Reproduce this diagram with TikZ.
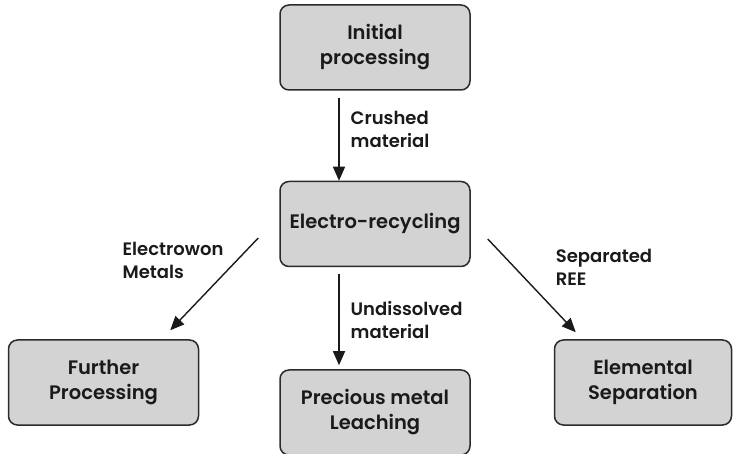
\documentclass[tikz,border=0pt]{standalone}
\usepackage{fontspec}
\setmainfont{Poppins}[BoldFont={Poppins SemiBold}]
\usepackage{tikz}
\usetikzlibrary{arrows.meta, positioning}
\definecolor{boxgray}{HTML}{D3D3D3}
\definecolor{edgedark}{HTML}{2B2B2B}
\definecolor{inkblack}{HTML}{1A1A1A}
\tikzstyle{stage} = [rectangle, rounded corners=9pt, minimum width=190pt, minimum height=85pt, text centered, align=center, draw=edgedark, line width=1.5pt, fill=boxgray, text=inkblack, font=\fontsize{19.5}{25}\selectfont\bfseries]
\tikzstyle{flowlabel} = [align=left, text=inkblack, font=\fontsize{18}{23}\selectfont\bfseries, inner sep=1pt]
\tikzstyle{arrow} = [line width=1.4pt, -{Triangle[length=14pt,width=12pt]}, color=inkblack]

\begin{document}
\begin{tikzpicture}[x=1pt, y=1pt]
    \useasboundingbox (0,0) rectangle (734,-454);
    \node[stage] (init) at (375,-47.5) {Initial\\processing};
    \node[stage, below=90pt of init] (elec) {Electro-recycling};
    \node[stage, below=102pt of elec] (prec) {Precious metal\\Leaching};
    \node[stage, below left=72pt and 80pt of elec] (further) {Further\\Processing};
    \node[stage, minimum width=177pt, below right=72pt and 83pt of elec] (elem) {Elemental\\Separation};

    \draw[arrow] ([xshift=-36pt,yshift=-7pt]init.south) -- node[flowlabel, right=10pt, pos=0.38] {Crushed\\material} ([xshift=-36pt]elec.north);
    \draw[arrow] ([xshift=-36pt,yshift=-7pt]elec.south) -- node[flowlabel, right=10pt, pos=0.5] {Undissolved\\material} ([xshift=-36pt,yshift=4pt]prec.north);
    \draw[arrow] ([xshift=-21pt,yshift=-14pt]elec.west) -- node[flowlabel, anchor=east, xshift=-12pt, pos=0.24] {Electrowon\\Metals} ([xshift=-29pt,yshift=9pt]further.north east);
    \draw[arrow] ([xshift=17pt,yshift=-15pt]elec.east) -- node[flowlabel, anchor=west, xshift=40pt, pos=0.3] {Separated\\REE} ([xshift=22pt,yshift=7pt]elem.north west);
\end{tikzpicture}
\end{document}
